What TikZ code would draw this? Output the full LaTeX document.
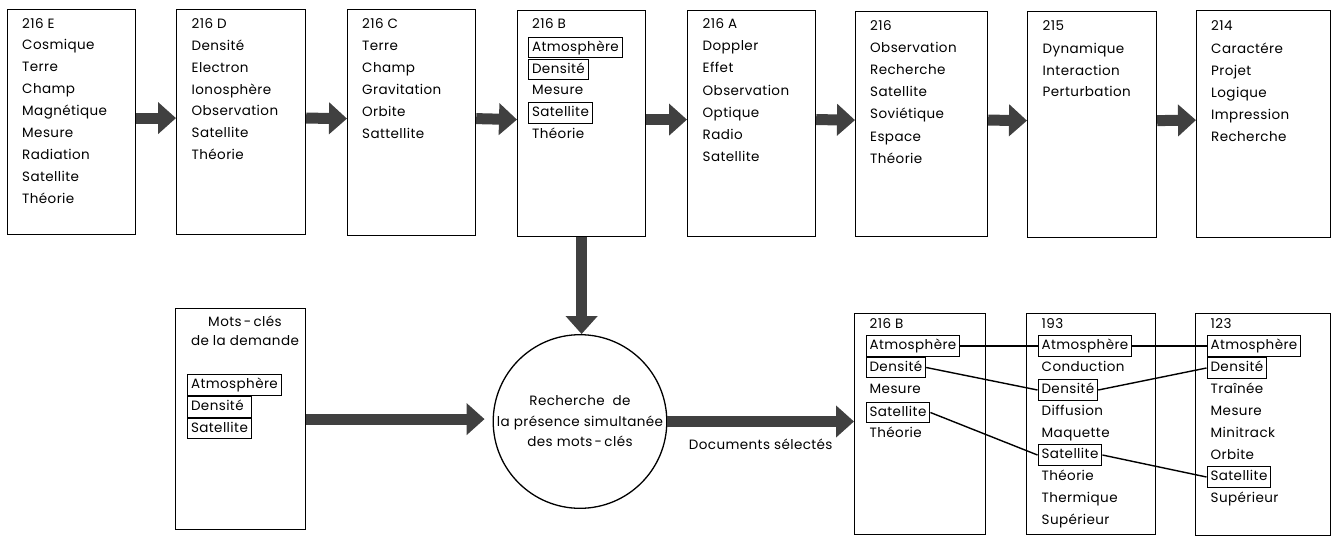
\documentclass[tikz,border=0pt]{standalone}
\usepackage{fontspec}
\setmainfont{Poppins}[LetterSpace=3]
\usetikzlibrary{arrows.meta,calc}
\begin{document}
\begin{tikzpicture}[x=1pt,y=-1pt,
  frame/.style={draw, line width=1.2pt, anchor=north west, inner sep=0pt},
  word/.style={anchor=west, inner xsep=3.5pt, inner ysep=3pt, text height=11pt, text depth=3.5pt, font=\fontsize{13.5}{15}\selectfont},
  kw/.style={word, draw, line width=1.1pt},
  fat/.style={line width=11pt, draw=black!75, -{Triangle[width=31pt,length=18pt]}},
  link/.style={line width=1.4pt}]
\useasboundingbox (0,0) rectangle (1331,536);

% ---------- top row boxes ----------
\node[frame, minimum width=128pt, minimum height=225pt] (b1) at (7,9) {};
\node[frame, minimum width=129pt, minimum height=225pt] (b2) at (176,9) {};
\node[frame, minimum width=128pt, minimum height=226pt] (b3) at (347,9) {};
\node[frame, minimum width=128pt, minimum height=226pt] (b4) at (517,10) {};
\node[frame, minimum width=128pt, minimum height=226pt] (b5) at (687,10) {};
\node[frame, minimum width=132pt, minimum height=225pt] (b6) at (855,11) {};
\node[frame, minimum width=129pt, minimum height=226pt] (b7) at (1027,11) {};
\node[frame, minimum width=134pt, minimum height=227pt] (b8) at (1196,10) {};

% box 1
\node[word] (b1h) at (18.5,25) {216 E};
\foreach \w [count=\i from 0] in {Cosmique,Terre,Champ,Magnétique,Mesure,Radiation,Satellite,Théorie}
  \node[word] (b1w\i) at (18.5,{46+22*\i}) {\w};
% box 2
\node[word] (b2h) at (188,25) {216 D};
\foreach \w [count=\i from 0] in {Densité,Electron,Ionosphère,Observation,Satellite,Théorie}
  \node[word] (b2w\i) at (188,{47+21.7*\i}) {\w};
% box 3
\node[word] (b3h) at (358.5,25) {216 C};
\foreach \w [count=\i from 0] in {Terre,Champ,Gravitation,Orbite,Sattellite}
  \node[word] (b3w\i) at (358.5,{47+22*\i}) {\w};
% box 4
\node[word] (b4h) at (528.5,25) {216 B};
\node[kw]   (b4a) at (528,47.5) {Atmosphère};
\node[kw]   (b4d) at (528,69.5) {Densité};
\node[word] (b4m) at (528.5,91) {Mesure};
\node[kw]   (b4s) at (528,113) {Satellite};
\node[word] (b4t) at (528.5,135) {Théorie};
% box 5
\node[word] (b5h) at (699,25) {216 A};
\foreach \w [count=\i from 0] in {Doppler,Effet,Observation,Optique,Radio,Satellite}
  \node[word] (b5w\i) at (699,{47+22.2*\i}) {\w};
% box 6
\node[word] (b6h) at (866.5,27) {216};
\foreach \w [count=\i from 0] in {Observation,Recherche,Satellite,Soviétique,Espace,Théorie}
  \node[word] (b6w\i) at (866.5,{48.5+22.2*\i}) {\w};
% box 7
\node[word] (b7h) at (1039,27) {215};
\foreach \w [count=\i from 0] in {Dynamique,Interaction,Perturbation}
  \node[word] (b7w\i) at (1039,{49.5+21.8*\i}) {\w};
% box 8
\node[word] (b8h) at (1207.5,27) {214};
\foreach \w [count=\i from 0] in {Caractére,Projet,Logique,Impression,Recherche}
  \node[word] (b8w\i) at (1207.5,{49.5+22*\i}) {\w};

% top arrows
\foreach \a/\b in {b1/b2,b2/b3,b3/b4,b4/b5,b5/b6,b6/b7,b7/b8}
  \draw[fat] ([yshift=4pt]\a.east) -- ([yshift=4pt]\b.west);

% ---------- query box ----------
\node[frame, minimum width=130pt, minimum height=221pt] (q) at (175,308) {};
\node[align=center, inner sep=0pt, font=\fontsize{13.5}{19}\selectfont] (qh) at (245,331) {Mots\,-\,clés\\de la demande};
\node[kw] (qa) at (187,385) {Atmosphère};
\node[kw] (qd) at (187,407) {\rlap{Densité}\phantom{Satellite}};
\node[kw] (qs) at (187,428.5) {Satellite};

% ---------- search circle ----------
\node[circle, draw, line width=1.3pt, minimum size=171pt, inner sep=0pt, align=center,
      font=\fontsize{13.5}{20.5}\selectfont] (search) at (580,421.5)
  {Recherche \ de\\la présence simultanée\\des mots\,-\,clés};

\draw[fat] (b4.south) -- (b4.south |- search.north);
\draw[fat, shorten >=8pt] (q.east) -- (q.east -| search.west);

% ---------- result boxes ----------
\node[frame, minimum width=131pt, minimum height=221pt] (r1) at (854,313) {};
\node[frame, minimum width=129pt, minimum height=221pt] (r2) at (1026,313) {};
\node[frame, minimum width=135pt, minimum height=222pt] (r3) at (1195,313) {};

\draw[fat] (search.east) -- (search.east -| r1.west)
  node[midway, below=12pt, inner sep=0pt, font=\fontsize{13.5}{15}\selectfont] (docs) {Documents sélectés};

% r1
\node[word] (r1h) at (866,325) {216 B};
\node[kw]   (r1a) at (865.5,346) {Atmosphère};
\node[kw]   (r1d) at (865.5,367.5) {Densité};
\node[word] (r1m) at (866,390) {Mesure};
\node[kw]   (r1s) at (865.5,412.5) {Satellite};
\node[word] (r1t) at (866,434) {Théorie};
% r2
\node[word] (r2h) at (1038,325) {193};
\node[kw]   (r2a) at (1037.5,346) {Atmosphère};
\node[word] (r2c) at (1038,368) {Conduction};
\node[kw]   (r2d) at (1037.5,390) {Densité};
\node[word] (r2f) at (1038,412) {Diffusion};
\node[word] (r2m) at (1038,434) {Maquette};
\node[kw]   (r2s) at (1037.5,455) {Satellite};
\node[word] (r2t) at (1038,477) {Théorie};
\node[word] (r2th) at (1038,499) {Thermique};
\node[word] (r2su) at (1038,520.5) {Supérieur};
% r3
\node[word] (r3h) at (1207,325) {123};
\node[kw]   (r3a) at (1206.5,346) {Atmosphère};
\node[kw]   (r3d) at (1206.5,368) {Densité};
\node[word] (r3tr) at (1207,390) {Traînée};
\node[word] (r3me) at (1207,412) {Mesure};
\node[word] (r3mi) at (1207,434) {Minitrack};
\node[word] (r3o) at (1207,455.5) {Orbite};
\node[kw]   (r3s) at (1206.5,477) {Satellite};
\node[word] (r3su) at (1207,499) {Supérieur};

% links
\draw[link] (r1a.east) -- (r2a.west);
\draw[link] (r2a.east) -- (r3a.west);
\draw[link] (r1d.east) -- (r2d.west);
\draw[link] (r2d.east) -- (r3d.west);
\draw[link] (r1s.east) -- (r2s.west);
\draw[link] (r2s.east) -- (r3s.west);
\end{tikzpicture}
\end{document}
